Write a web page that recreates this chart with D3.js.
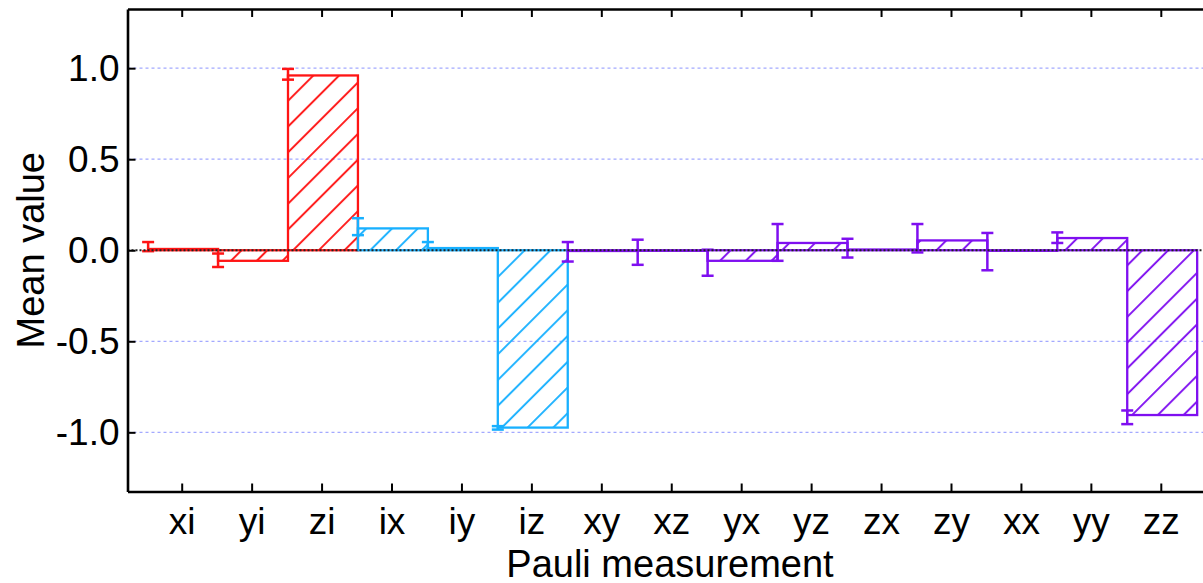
<!DOCTYPE html>
<html>
<head>
<meta charset="utf-8">
<script src="https://cdn.jsdelivr.net/npm/d3@7/dist/d3.min.js"></script>
<style>
  html, body { margin: 0; padding: 0; background: #fff; overflow: hidden; }
  svg { display: block; font-family: "Liberation Sans", Arial, sans-serif; }
</style>
</head>
<body>
<svg id="chart" width="1203" height="583"></svg>
<script>
// Pauli measurement categories (two-qubit operators)
const categories = ["xi", "yi", "zi", "ix", "iy", "iz", "xy", "xz", "yx", "yz", "zx", "zy", "xx", "yy", "zz"];
// which group each operator belongs to (single qubit A, single qubit B, correlators)
const groups = ["A", "A", "A", "B", "B", "B", "C", "C", "C", "C", "C", "C", "C", "C", "C"];
// measured mean values
const means = [0.007, -0.058, 0.96, 0.12, 0.012, -0.974, -0.004, -0.003, -0.058, 0.04, 0.004, 0.054, -0.003, 0.067, -0.905];
// error bar extents
const errLow  = [-0.005, -0.092, 0.937, 0.083, 0.003, -0.985, -0.062, -0.08, -0.14, -0.058, -0.04, -0.012, -0.11, 0.04, -0.955];
const errHigh = [0.045, -0.018, 0.996, 0.176, 0.045, -0.966, 0.045, 0.058, 0.003, 0.144, 0.063, 0.144, 0.095, 0.098, -0.88];
// y axis ticks and grid levels
const yTicks = [-1.0, -0.5, 0.0, 0.5, 1.0];
const gridLevels = [-1.0, -0.5, 0.5, 1.0];

const groupColors = { A: "#ff1414", B: "#18b0ff", C: "#7f0ff0" };

const svg = d3.select("#chart");
const plotLeft = 127.5, plotRight = 1215, plotTop = 9, plotBottom = 491.5;
const barShift = 0.02;

const x = d3.scaleLinear().domain([-0.775, 14.775]).range([plotLeft, plotRight]);
const y = d3.scaleLinear().domain([-1.325, 1.325]).range([plotBottom, plotTop]);
const color = d3.scaleOrdinal().domain(Object.keys(groupColors)).range(Object.values(groupColors));

// diagonal hatch patterns, one per group colour
const defs = svg.append("defs");
Object.keys(groupColors).forEach(g => {
  const p = defs.append("pattern")
    .attr("id", "hatch-" + g)
    .attr("patternUnits", "userSpaceOnUse")
    .attr("width", 18.2).attr("height", 40)
    .attr("patternTransform", "rotate(45)");
  p.append("line")
    .attr("x1", 2).attr("y1", 0).attr("x2", 2).attr("y2", 40)
    .attr("stroke", color(g)).attr("stroke-width", 1.9);
});

// grid lines
svg.append("g").selectAll("line").data(gridLevels).join("line")
  .attr("x1", plotLeft).attr("x2", plotRight)
  .attr("y1", d => y(d)).attr("y2", d => y(d))
  .attr("stroke", "#a3a9ff").attr("stroke-width", 1.2)
  .attr("stroke-dasharray", "3,3");

const idx = d3.range(categories.length);

// bars
svg.append("g").selectAll("rect").data(idx).join("rect")
  .attr("x", i => x(i - 0.5 + barShift))
  .attr("width", i => x(i + 0.5) - x(i - 0.5))
  .attr("y", i => y(Math.max(0, means[i])))
  .attr("height", i => Math.abs(y(means[i]) - y(0)))
  .attr("fill", i => `url(#hatch-${groups[i]})`)
  .attr("stroke", i => color(groups[i]))
  .attr("stroke-width", 2.3);

// error bars at the left edge of each bar
const eb = svg.append("g").selectAll("g").data(idx).join("g")
  .attr("stroke", i => color(groups[i]))
  .attr("stroke-width", 2.5);
eb.append("line")
  .attr("x1", i => x(i - 0.5 + barShift)).attr("x2", i => x(i - 0.5 + barShift))
  .attr("y1", i => y(errLow[i])).attr("y2", i => y(errHigh[i]));
eb.append("line")
  .attr("x1", i => x(i - 0.5 + barShift) - 6).attr("x2", i => x(i - 0.5 + barShift) + 6)
  .attr("y1", i => y(errLow[i])).attr("y2", i => y(errLow[i]));
eb.append("line")
  .attr("x1", i => x(i - 0.5 + barShift) - 6).attr("x2", i => x(i - 0.5 + barShift) + 6)
  .attr("y1", i => y(errHigh[i])).attr("y2", i => y(errHigh[i]));

// zero reference line
svg.append("line")
  .attr("x1", plotLeft).attr("x2", plotRight)
  .attr("y1", y(0)).attr("y2", y(0))
  .attr("stroke", "#222").attr("stroke-width", 2.2)
  .attr("stroke-dasharray", "2,2");

// frame axes
const axisStyle = g => {
  g.select(".domain").attr("stroke", "#000").attr("stroke-width", 2.6);
  g.selectAll(".tick line").attr("stroke", "#000").attr("stroke-width", 2);
  g.selectAll(".tick text").attr("fill", "#000").attr("font-size", 37)
    .attr("font-family", "Liberation Sans, Arial, sans-serif");
};

svg.append("g").attr("transform", `translate(0,${plotBottom})`)
  .call(d3.axisBottom(x).tickValues(idx).tickFormat(i => categories[i])
    .tickSizeInner(-8).tickSizeOuter(0).tickPadding(16))
  .call(axisStyle)
  .call(g => g.selectAll(".tick text").attr("dy", "0.71em"));

svg.append("g").attr("transform", `translate(0,${plotTop})`)
  .call(d3.axisTop(x).tickValues(idx).tickFormat("").tickSizeInner(-8).tickSizeOuter(0))
  .call(axisStyle);

// y tick labels use a plain hyphen for negatives
const fmt = d3.format(".1f");
svg.append("g").attr("transform", `translate(${plotLeft},0)`)
  .call(d3.axisLeft(y).tickValues(yTicks).tickFormat(d => fmt(d).replace("\u2212", "-"))
    .tickSizeInner(-8).tickSizeOuter(0).tickPadding(8))
  .call(axisStyle);

// axis titles
svg.append("text")
  .attr("x", 670).attr("y", 577)
  .attr("text-anchor", "middle").attr("font-size", 38).attr("fill", "#000")
  .text("Pauli measurement");

svg.append("text")
  .attr("transform", `translate(44,${(plotTop + plotBottom) / 2}) rotate(-90)`)
  .attr("text-anchor", "middle").attr("font-size", 38).attr("fill", "#000")
  .text("Mean value");
</script>
</body>
</html>
